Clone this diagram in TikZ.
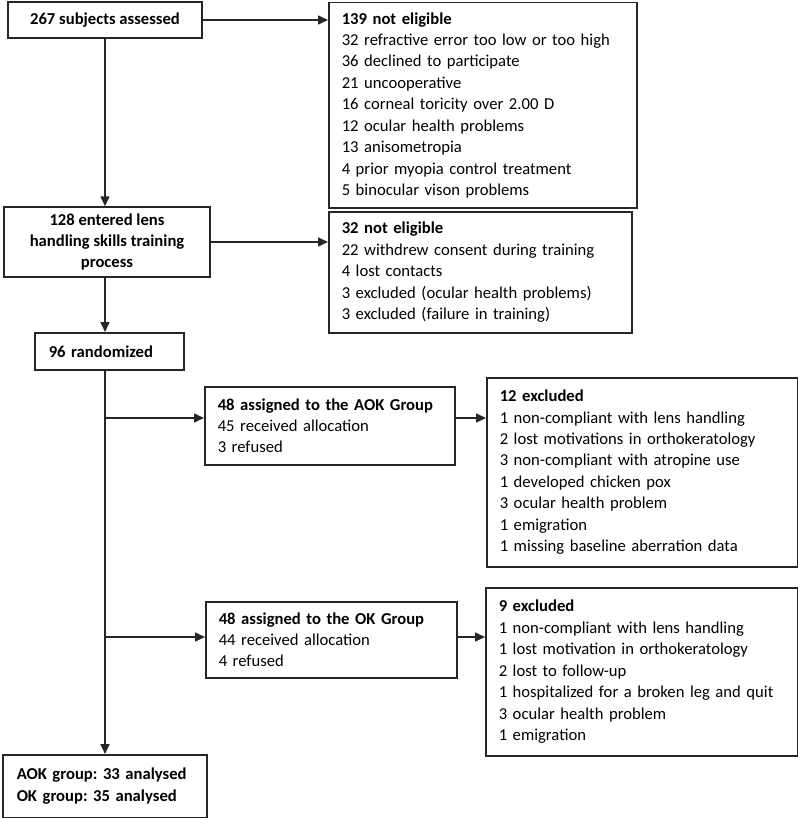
\documentclass[tikz,border=0pt]{standalone}
\usepackage{fontspec}
\setmainfont{Carlito}
\usetikzlibrary{positioning, arrows.meta, calc}
\definecolor{myInk}{HTML}{262626}
\frenchspacing

\begin{document}
\begin{tikzpicture}[x=1bp, y=-1bp,
  box/.style={draw=myInk, line width=1.5bp, text=black,
              inner xsep=13bp, inner ysep=0pt,
              font=\fontsize{16.7}{21.5}\selectfont},
  headbox/.style={box, font=\fontsize{16.7}{21.5}\selectfont\bfseries, align=center},
  listbox/.style={box, anchor=north west, align=left},
  flow/.style={draw=myInk, line width=1.5bp, -{Triangle[length=10bp, width=9bp]}}
]
\useasboundingbox (0,0) rectangle (798,818);

% main column
\node[headbox, minimum width=194bp, minimum height=36bp] (assessed) at (105,20)
  {267 subjects assessed};
\node[headbox, minimum width=206bp, minimum height=70bp] (training) at (107,242)
  {128 entered lens\\handling skills training\\process};
\node[listbox, font=\fontsize{16.7}{21.5}\selectfont\bfseries, inner xsep=14bp,
      text width=121bp, minimum height=37bp] (random) at (34,332)
  {96 randomized};
\node[listbox, font=\fontsize{16.7}{21.5}\selectfont\bfseries, inner xsep=14bp,
      text width=176bp, minimum height=63bp] (analysed) at (2,754)
  {AOK group: 33 analysed\\OK group: 35 analysed};

% exclusions
\node[listbox, text width=282bp, minimum height=205bp] (noteligA) at (328,2)
  {\textbf{139 not eligible}\\
   32 refractive error too low or too high\\
   36 declined to participate\\
   21 uncooperative\\
   16 corneal toricity over 2.00 D\\
   12 ocular health problems\\
   13 anisometropia\\
   4 prior myopia control treatment\\
   5 binocular vison problems};
\node[listbox, text width=277bp, minimum height=121bp] (noteligB) at (328,211)
  {\textbf{32 not eligible}\\
   22 withdrew consent during training\\
   4 lost contacts\\
   3 excluded (ocular health problems)\\
   3 excluded (failure in training)};

% groups
\node[listbox, text width=224bp, minimum height=78bp] (aok) at (204,386)
  {\textbf{48 assigned to the AOK Group}\\
   45 received allocation\\
   3 refused};
\node[listbox, text width=285bp, minimum height=189bp] (exclA) at (486,377)
  {\textbf{12 excluded}\\
   1 non-compliant with lens handling\\
   2 lost motivations in orthokeratology\\
   3 non-compliant with atropine use\\
   1 developed chicken pox\\
   3 ocular health problem\\
   1 emigration\\
   1 missing baseline aberration data};
\node[listbox, text width=225bp, minimum height=76bp] (ok) at (205,601)
  {\textbf{48 assigned to the OK Group}\\
   44 received allocation\\
   4 refused};
\node[listbox, text width=286bp, minimum height=168bp] (exclB) at (485,587)
  {\textbf{9 excluded}\\
   1 non-compliant with lens handling\\
   1 lost motivation in orthokeratology\\
   2 lost to follow-up\\
   1 hospitalized for a broken leg and quit\\
   3 ocular health problem\\
   1 emigration};

\coordinate (splitA) at (105,418);
\coordinate (splitB) at (105,637);

% connectors
\draw[flow] (assessed.east) -- (assessed.east -| noteligA.west);
\draw[flow] (assessed) -- (assessed |- training.north);
\draw[flow] (training.east) -- (training.east -| noteligB.west);
\draw[flow] (training.south -| splitA) -- (random.north -| splitA);
\draw[flow] (random.south -| splitA) -- (analysed.north -| splitA);
\draw[flow] (splitA) -- (splitA -| aok.west);
\draw[flow] (splitB) -- (splitB -| ok.west);
\draw[flow] (aok.east |- splitA) -- (exclA.west |- splitA);
\draw[flow] (ok.east |- splitB) -- (exclB.west |- splitB);
\end{tikzpicture}
\end{document}
